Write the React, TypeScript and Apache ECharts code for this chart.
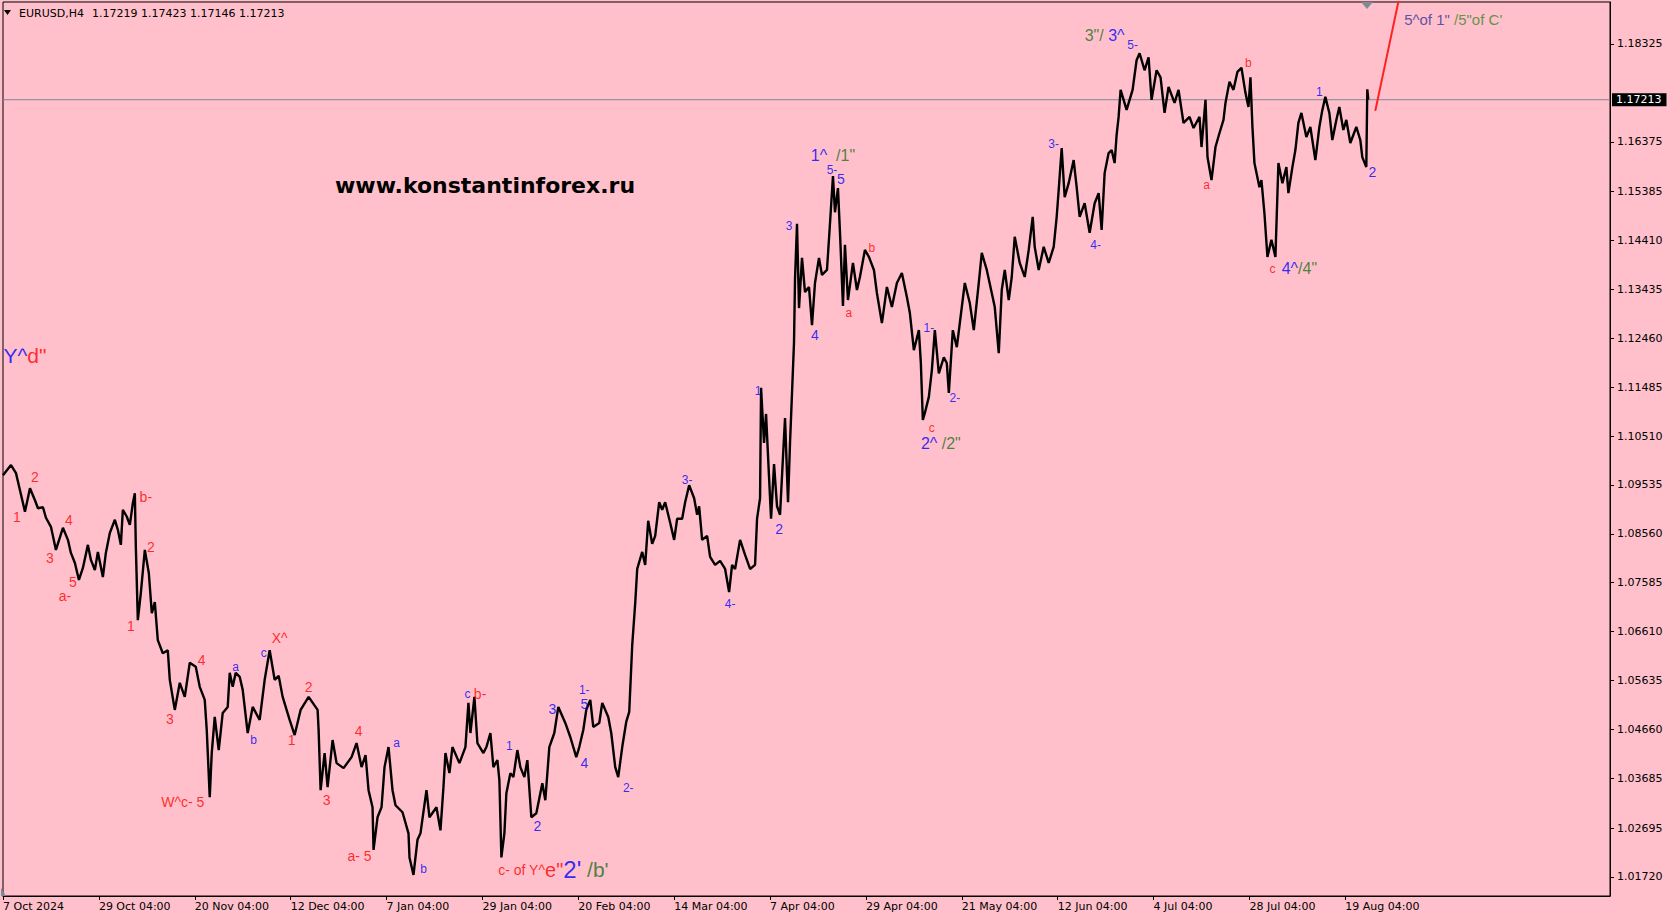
import React, { useEffect, useRef } from "react";
import * as echarts from "echarts";

// ---- header / quote ----
const symbolName = "EURUSD,H4";
const lastOHLC = [1.17219, 1.17423, 1.17146, 1.17213];
const watermark = "www.konstantinforex.ru";

// ---- axes ----
const xTickBars = [0, 96, 192, 288, 384, 480, 576, 672, 768, 864, 960, 1056, 1152, 1248, 1344];
const xTickLabels = [
  "7 Oct 2024", "29 Oct 04:00", "20 Nov 04:00", "12 Dec 04:00", "7 Jan 04:00",
  "29 Jan 04:00", "20 Feb 04:00", "14 Mar 04:00", "7 Apr 04:00", "29 Apr 04:00",
  "21 May 04:00", "12 Jun 04:00", "4 Jul 04:00", "28 Jul 04:00", "19 Aug 04:00",
];
const yTickValues = [
  1.0172, 1.02695, 1.03685, 1.0466, 1.05635, 1.0661, 1.07585, 1.0856, 1.09535,
  1.1051, 1.11485, 1.1246, 1.13435, 1.1441, 1.15385, 1.16375, 1.18325,
];
const yMin = 1.01341;
const yMax = 1.19161;
const xMax = 1609;

// ---- price path (bar index, price) ----
const pathBars = [
  0, 8, 13, 17, 22, 27, 32, 35, 40, 43, 48, 53, 60, 65, 68, 72, 76, 80, 85, 88, 92, 95, 100, 103, 107, 112, 115, 118, 120, 124, 127, 130, 132, 133, 135, 138, 142, 146, 149, 152, 155, 160, 165, 167, 172, 177, 182, 187, 193, 197, 202, 204, 207, 209, 212, 216, 220, 225, 227, 230, 233, 237, 240, 245, 250, 257, 262, 267, 272, 276, 280, 287, 292, 298,
  306, 315, 316, 318, 322, 325, 330, 334, 341, 349, 354, 359, 363, 366, 370, 371, 375, 379, 382, 386, 390, 393, 400, 406, 407, 411, 415, 418, 424, 427, 434, 438, 441, 443, 447, 450, 457, 463, 466, 468, 472, 475, 481, 484, 488, 491, 495, 497, 499, 502, 504, 508, 511, 515, 518, 522, 525, 529, 534, 540, 543, 547, 552, 556, 563, 568, 574, 577, 581, 584, 588, 591, 597, 600, 606, 609, 613, 616, 620, 624, 627,
  630, 633, 635, 640, 643, 646, 650, 653, 657, 660, 663, 668, 672, 675, 680, 683, 687, 692, 695, 697, 700, 705, 708, 713, 718, 723, 727, 730, 733, 738, 743, 748, 753, 755, 758, 759, 762, 764, 767, 769, 772, 775, 778, 781, 783, 786, 788, 790, 792, 793, 795, 797, 800, 803, 807, 810, 813, 817, 820, 825, 828, 831, 833, 836, 838, 841, 843, 846, 851, 855, 858, 863, 867, 872, 875, 880, 885, 890, 895, 900, 905, 908, 912, 917, 919, 921, 923, 927, 930, 933, 937, 942, 945, 947, 951, 955, 958, 963, 968, 972, 977, 980, 985, 990, 993, 997,
  1000, 1003, 1007, 1010, 1013, 1018, 1023, 1027, 1031, 1033, 1037, 1042, 1047, 1052, 1055, 1057, 1060, 1063, 1067, 1072, 1075, 1078, 1083, 1088, 1093, 1097, 1100, 1103, 1107, 1110, 1113, 1115, 1117, 1119, 1125, 1131, 1135, 1138, 1143, 1147, 1150, 1155, 1159, 1163, 1167, 1173, 1177, 1182, 1188, 1192, 1198, 1200, 1204, 1206, 1210, 1214, 1218, 1222, 1224, 1228, 1232, 1236, 1240, 1244, 1247, 1249, 1251, 1253, 1258, 1260, 1263, 1266, 1270, 1274, 1277, 1281, 1285, 1287, 1291, 1294, 1297, 1300, 1305, 1309, 1314, 1318, 1321, 1324, 1328, 1331, 1335, 1338, 1342, 1345, 1349, 1355, 1359, 1361, 1365, 1366, 1367,
];
const pathPrices = [
  1.0973, 1.0993, 1.0977, 1.0943, 1.09, 1.0947, 1.0923, 1.0907, 1.0909, 1.0888, 1.087, 1.0824, 1.0868, 1.0844, 1.0818, 1.0798, 1.0764, 1.0788, 1.0834, 1.0804, 1.0784, 1.082, 1.077, 1.0818, 1.0858, 1.0884, 1.0864, 1.0834, 1.0904, 1.089, 1.0874, 1.0917, 1.0937, 1.083, 1.0684, 1.0738, 1.0824, 1.0778, 1.0698, 1.072, 1.0644, 1.0618, 1.0624, 1.0565, 1.0505, 1.0559, 1.0531, 1.0599, 1.0591, 1.0551, 1.0525, 1.0465, 1.0331, 1.0419, 1.0491, 1.0425, 1.0499, 1.0511, 1.0579, 1.0551, 1.0579, 1.0571, 1.0545, 1.0459, 1.0511, 1.0485, 1.0565, 1.0624, 1.0565, 1.0573, 1.0531, 1.0485, 1.0455, 1.0505,
  1.0531, 1.0505, 1.0465, 1.0345, 1.0419, 1.0351, 1.0445, 1.0399, 1.0389, 1.0411, 1.0439, 1.0391, 1.0415, 1.0345, 1.0311, 1.0226, 1.0291, 1.0311, 1.0391, 1.0431, 1.0345, 1.0315, 1.0301, 1.0259, 1.0211, 1.0176, 1.0246, 1.0259, 1.0345, 1.0291, 1.0311, 1.0265, 1.0351, 1.0419, 1.0379, 1.0431, 1.0399, 1.0431, 1.0519, 1.0459, 1.0531, 1.0439, 1.0419, 1.0431, 1.0459, 1.0391, 1.0405, 1.0365, 1.0211, 1.0259, 1.0339, 1.0379, 1.0371, 1.0425, 1.0391, 1.0371, 1.0405, 1.0291, 1.0299, 1.0359, 1.0325, 1.0431, 1.0459, 1.0511, 1.0479, 1.0451, 1.0411, 1.0431, 1.0465, 1.0505, 1.0525, 1.0471, 1.0479, 1.0519, 1.0491, 1.0459, 1.0391, 1.0371, 1.0431, 1.0481, 1.0501,
  1.0634, 1.0718, 1.0786, 1.082, 1.0794, 1.0882, 1.0836, 1.0852, 1.0919, 1.0904, 1.0919, 1.0878, 1.0844, 1.0886, 1.0886, 1.0919, 1.0953, 1.0927, 1.0894, 1.0911, 1.0844, 1.0852, 1.081, 1.0794, 1.0802, 1.0786, 1.074, 1.0794, 1.0786, 1.0844, 1.0814, 1.0786, 1.0794, 1.0886, 1.0927, 1.1147, 1.1037, 1.1095, 1.0969, 1.0886, 1.0995, 1.0911, 1.0894, 1.1011, 1.1087, 1.0919, 1.1037, 1.1137, 1.1238, 1.1364, 1.1474, 1.1306, 1.1406, 1.1338, 1.1348, 1.1272, 1.1356, 1.1406, 1.1372, 1.1382, 1.1474, 1.1569, 1.1497, 1.1545, 1.1458, 1.131, 1.1432, 1.1322, 1.1396, 1.1342, 1.1368, 1.1422, 1.1408, 1.1382, 1.1336, 1.1276, 1.1348, 1.1308, 1.1356, 1.1376, 1.1328, 1.1296, 1.1222, 1.1262, 1.1196, 1.1083, 1.1097, 1.1129, 1.1182, 1.1262, 1.1176, 1.1208, 1.1196, 1.1137, 1.1262, 1.1228, 1.1276, 1.1356, 1.1316, 1.1262, 1.1356, 1.1416, 1.1382, 1.1336, 1.1308, 1.1216,
  1.1342, 1.1382, 1.1322, 1.1368, 1.1448, 1.1396, 1.1368, 1.1422, 1.1488, 1.1428, 1.1382, 1.1428, 1.1396, 1.1428, 1.1488, 1.1541, 1.1625, 1.1527, 1.1555, 1.1601, 1.1547, 1.1488, 1.1515, 1.1456, 1.1515, 1.1535, 1.1462, 1.1575, 1.1615, 1.1621, 1.1595, 1.1651, 1.1687, 1.1741, 1.1701, 1.1741, 1.18, 1.1814, 1.178, 1.1806, 1.1721, 1.178, 1.1766, 1.1695, 1.1747, 1.1715, 1.1741, 1.1675, 1.1687, 1.1665, 1.1687, 1.1627, 1.1721, 1.1607, 1.1561, 1.1627, 1.1655, 1.1681, 1.1715, 1.1757, 1.1741, 1.1777, 1.1785, 1.1735, 1.1707, 1.1766, 1.1667, 1.1595, 1.1547, 1.1561, 1.1495, 1.1408, 1.1442, 1.1408, 1.1595, 1.1555, 1.1587, 1.1535, 1.1587, 1.1621, 1.1675, 1.1695, 1.1647, 1.1667, 1.1601, 1.1667, 1.1701, 1.1727, 1.1695, 1.1641, 1.1681, 1.1707, 1.1661, 1.1681, 1.1635, 1.1667, 1.1641, 1.1607, 1.1587, 1.1742, 1.17213,
];

// ---- projected move (red line) ----
const projectionBars = [1374, 1398];
const projectionPrices = [1.1699, 1.1925];

// ---- wave labels: [bar, price, [[text, styleKey], ...]] ----
type Part = [string, string];
const waveLabels: [number, number, Part[]][] = [
  [14, 1.089, [["1", "r14"]]],
  [32, 1.0969, [["2", "r14"]]],
  [47, 1.0808, [["3", "r14"]]],
  [66, 1.0884, [["4", "r14"]]],
  [70, 1.0759, [["5", "r14"]]],
  [62, 1.0732, [["a-", "r14"]]],
  [143, 1.0929, [["b-", "r14"]]],
  [128, 1.0672, [["1", "r14"]]],
  [148, 1.083, [["2", "r14"]]],
  [167, 1.0487, [["3", "r14"]]],
  [199, 1.0604, [["4", "r14"]]],
  [180, 1.0321, [["W^c- 5", "r14"]]],
  [233, 1.059, [["a", "b12"]]],
  [251, 1.0445, [["b", "b12"]]],
  [261, 1.0618, [["c", "b12"]]],
  [277, 1.0648, [["X^", "r14"]]],
  [289, 1.0445, [["1", "r14"]]],
  [306, 1.0551, [["2", "r14"]]],
  [324, 1.0325, [["3", "r14"]]],
  [356, 1.0463, [["4", "r14"]]],
  [357, 1.0214, [["a- 5", "r14"]]],
  [394, 1.0439, [["a", "b12"]]],
  [421, 1.0188, [["b", "b12"]]],
  [473, 1.0537, [["c ", "b12"], ["b-", "r14"]]],
  [551, 1.0186, [["c- of Y^", "r14"], ["e\"", "r20"], ["2'", "b24"], [" /b'", "g21"]]],
  [507, 1.0433, [["1", "b12"]]],
  [535, 1.0274, [["2", "b14"]]],
  [550, 1.0507, [["3", "b14"]]],
  [582, 1.0399, [["4", "b14"]]],
  [582, 1.0545, [["1-", "b12"]]],
  [582, 1.0517, [["5", "b14"]]],
  [626, 1.0349, [["2-", "b12"]]],
  [685, 1.0963, [["3-", "b12"]]],
  [728, 1.0716, [["4-", "b12"]]],
  [756, 1.1141, [["1", "b12"]]],
  [777, 1.0866, [["2", "b14"]]],
  [787, 1.147, [["3", "b12"]]],
  [813, 1.1252, [["4", "b14"]]],
  [831, 1.1611, [["1^", "b16"], ["  /1\"", "g16"]]],
  [830, 1.1581, [["5-", "b12"]]],
  [839, 1.1563, [["5", "b14"]]],
  [847, 1.1296, [["a", "r12"]]],
  [870, 1.1426, [["b", "r12"]]],
  [927, 1.1266, [["1-", "b12"]]],
  [953, 1.1127, [["2-", "b12"]]],
  [930, 1.1067, [["c", "r12"]]],
  [939, 1.1037, [["2^", "b16"], [" /2\"", "g16"]]],
  [1052, 1.1633, [["3-", "b12"]]],
  [1094, 1.1432, [["4-", "b12"]]],
  [1103, 1.185, [["3\"/ ", "g16"], ["3^", "b16"]]],
  [1131, 1.183, [["5-", "b12"]]],
  [1205, 1.1551, [["a", "r12"]]],
  [1247, 1.1794, [["b", "r12"]]],
  [1271, 1.1384, [["c", "r12"]]],
  [1298, 1.1384, [["4^", "b16"], ["/4\"", "g16"]]],
  [1318, 1.1737, [["1", "b12"]]],
  [1371, 1.1577, [["2", "b14"]]],
  [1452, 1.1882, [["5^of 1\"", "n15"], [" /5\"of C'", "l15"]]],
  [22, 1.1212, [["Y^", "b21"], ["d\"", "r21"]]],
];

const RED = "#FF0000";
const BLUE = "#0000FF";
const GREEN = "#1A701A";
const LABEL_FONT = "'Liberation Sans', Arial, sans-serif";
const AXIS_FONT = "'DejaVu Sans', sans-serif";

const st = (color: string, size: number) => ({ color, fontSize: size, fontFamily: LABEL_FONT });
const richStyles: Record<string, any> = {
  r12: st(RED, 12),
  r14: st(RED, 14),
  r20: st(RED, 20),
  r21: st(RED, 21),
  b12: st(BLUE, 12),
  b14: st(BLUE, 14),
  b16: st(BLUE, 16),
  b21: st(BLUE, 21),
  b24: st(BLUE, 24),
  g16: st(GREEN, 16),
  g21: st(GREEN, 21),
  n15: st("#33339A", 15),
  l15: st("#3A8526", 15),
};

export default function App() {
  const ref = useRef<HTMLDivElement>(null);

  useEffect(() => {
    if (!ref.current) return;
    const chart = echarts.init(ref.current, null, { renderer: "svg" });

    const priceData = pathBars.map((b, i) => [b, pathPrices[i]]);
    const projData = projectionBars.map((b, i) => [b, projectionPrices[i]]);
    const lastLine = [
      [0, lastOHLC[3]],
      [xMax, lastOHLC[3]],
    ];
    const labelData = waveLabels.map(([b, p, parts]) => ({
      value: [b, p],
      label: { formatter: parts.map(([t, s]) => `{${s}|${t}}`).join("") },
    }));

    chart.setOption({
      animation: false,
      backgroundColor: "#FFC0CB",
      grid: {
        left: 1,
        top: 2,
        width: xMax,
        height: 894,
        show: true,
        borderColor: "#000",
        borderWidth: 1,
        backgroundColor: "transparent",
      },
      xAxis: {
        type: "value",
        min: 0,
        max: xMax,
        axisLine: { show: true, lineStyle: { color: "#000", width: 1 } },
        axisTick: { show: true, length: 4, customValues: xTickBars, lineStyle: { color: "#000" } },
        axisLabel: {
          customValues: xTickBars,
          formatter: (v: number) => xTickLabels[xTickBars.indexOf(Math.round(v))] ?? "",
          align: "left",
          margin: 5,
          color: "#000",
          fontFamily: AXIS_FONT,
          fontSize: 11,
        },
        splitLine: { show: false },
      },
      yAxis: {
        type: "value",
        position: "right",
        min: yMin,
        max: yMax,
        scale: true,
        axisLine: { show: true, onZero: false, lineStyle: { color: "#000", width: 1 } },
        axisTick: { show: true, length: 4, customValues: yTickValues, lineStyle: { color: "#000" } },
        axisLabel: {
          customValues: yTickValues,
          formatter: (v: number) => v.toFixed(5),
          margin: 7,
          color: "#000",
          fontFamily: AXIS_FONT,
          fontSize: 11,
        },
        splitLine: { show: false },
      },
      series: [
        {
          type: "line",
          data: lastLine,
          showSymbol: false,
          symbol: "none",
          lineStyle: { color: "#778899", width: 1 },
          z: 2,
          silent: true,
          clip: false,
          endLabel: {
            show: true,
            distance: 2,
            formatter: lastOHLC[3].toFixed(5),
            backgroundColor: "#000",
            color: "#fff",
            fontFamily: AXIS_FONT,
            fontSize: 11,
            padding: [1, 5, 1, 4],
          },
        },
        {
          type: "line",
          data: priceData,
          showSymbol: false,
          symbol: "none",
          lineStyle: { color: "#000", width: 2.4 },
          z: 3,
          silent: true,
        },
        {
          type: "line",
          data: projData,
          showSymbol: false,
          symbol: "none",
          lineStyle: { color: "#FF2020", width: 2 },
          z: 4,
          silent: true,
        },
        {
          type: "scatter",
          data: labelData,
          symbolSize: 1,
          itemStyle: { color: "rgba(0,0,0,0)" },
          clip: false,
          silent: true,
          z: 5,
          label: {
            show: true,
            position: "inside",
            fontFamily: LABEL_FONT,
            rich: richStyles,
          },
        },
      ],
      graphic: [
        {
          type: "polygon",
          shape: { points: [[4, 10], [11, 10], [7.5, 15]] },
          style: { fill: "#000" },
          silent: true,
        },
        {
          type: "text",
          x: 19,
          y: 13,
          style: {
            text: symbolName,
            fill: "#000",
            fontFamily: AXIS_FONT,
            fontSize: 11,
            verticalAlign: "middle",
            align: "left",
          },
          silent: true,
        },
        {
          type: "text",
          x: 92,
          y: 13,
          style: {
            text: lastOHLC.map((v) => v.toFixed(5)).join(" "),
            fill: "#000",
            fontFamily: AXIS_FONT,
            fontSize: 11,
            verticalAlign: "middle",
            align: "left",
          },
          silent: true,
        },
        {
          type: "text",
          x: 335,
          y: 185,
          style: {
            text: watermark,
            fill: "#000",
            fontFamily: "'DejaVu Sans', sans-serif",
            fontWeight: "bold",
            fontSize: 22,
            verticalAlign: "middle",
            align: "left",
          },
          silent: true,
        },
        {
          type: "polygon",
          shape: { points: [[1361, 2], [1373, 2], [1367, 9]] },
          style: { fill: "#7F8A96" },
          silent: true,
        },
        {
          type: "polygon",
          shape: { points: [[1, 888], [1, 896], [6, 896]] },
          style: { fill: "#7F8A96" },
          silent: true,
        },
      ],
    });

    return () => chart.dispose();
  }, []);

  return (
    <div
      ref={ref}
      style={{ position: "fixed", left: 0, top: 0, width: 1674, height: 924 }}
    />
  );
}
